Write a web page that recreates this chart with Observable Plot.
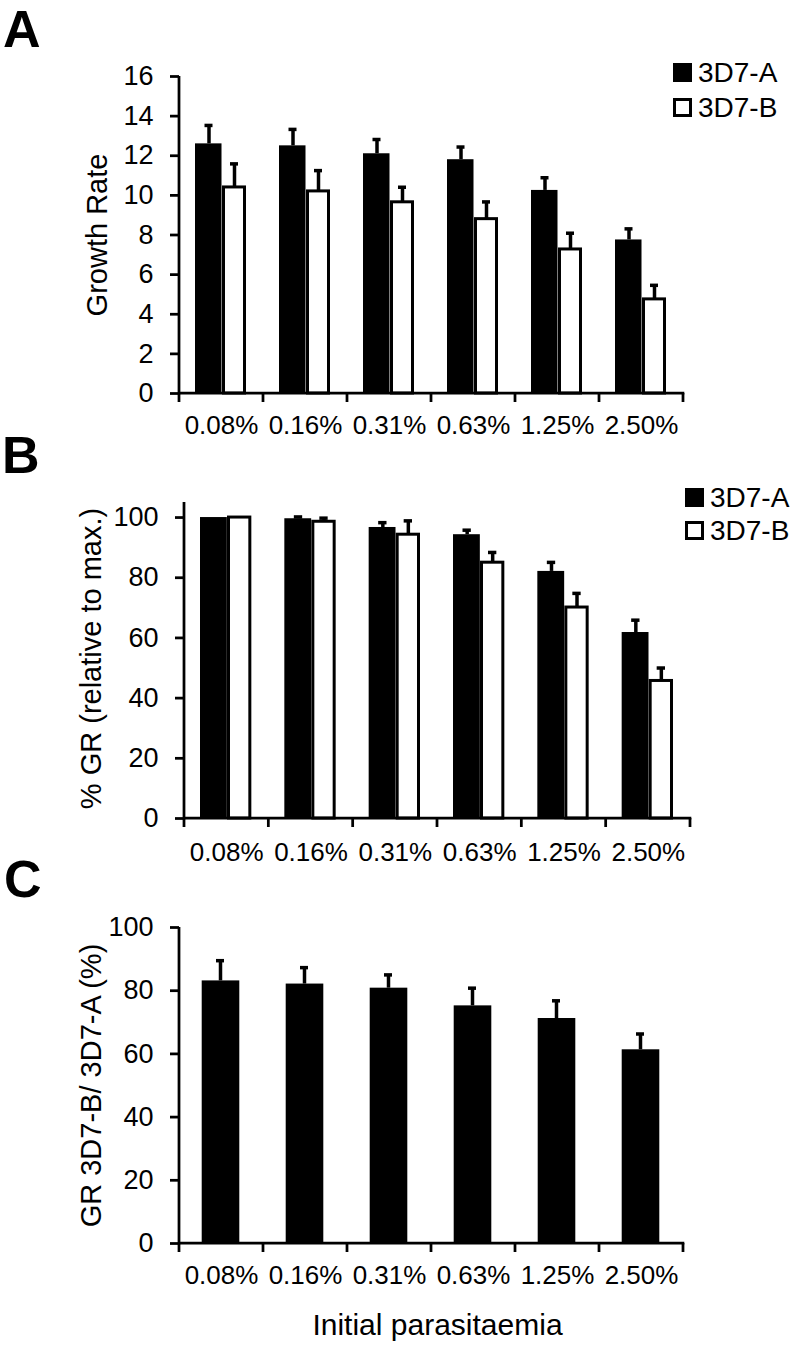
<!DOCTYPE html>
<html><head><meta charset="utf-8">
<script src="https://cdn.jsdelivr.net/npm/d3@7"></script>
<script src="https://cdn.jsdelivr.net/npm/@observablehq/plot@0.6"></script>
<style>
html,body{margin:0;padding:0;background:#fff;}
#root{position:relative;width:800px;height:1345px;overflow:hidden;font-family:"Liberation Sans",Arial,sans-serif;color:#000;background:#fff;}
.panel{position:absolute;left:0;}
.letter{position:absolute;font-weight:bold;line-height:1;}
.legend{position:absolute;font-size:28px;line-height:1;}
.legend .row{display:flex;align-items:center;}
.legend .sw{width:19px;height:19px;box-sizing:border-box;margin-right:6px;flex:none;}
</style></head><body><div id="root"></div>
<script>
const FONT = '"Liberation Sans", Arial, sans-serif';
const categories = ["0.08%", "0.16%", "0.31%", "0.63%", "1.25%", "2.50%"];
const seriesNames = ["3D7-A", "3D7-B"];
const seriesFill = ["black", "white"];

// Panel A: growth rate
const growthA = [12.6, 12.5, 12.1, 11.8, 10.25, 7.75];
const growthAErr = [0.93, 0.83, 0.72, 0.64, 0.64, 0.56];
const growthB = [10.4, 10.2, 9.65, 8.8, 7.27, 4.75];
const growthBErr = [1.19, 1.05, 0.76, 0.87, 0.82, 0.71];
const growthTicks = [0, 2, 4, 6, 8, 10, 12, 14, 16];

// Panel B: % GR relative to max
const pctA = [100, 99.6, 96.7, 94.3, 82.1, 61.8];
const pctAErr = [0, 0.6, 1.6, 1.5, 3.0, 4.1];
const pctB = [100, 98.6, 94.3, 85.0, 70.1, 45.7];
const pctBErr = [0, 1.2, 4.6, 3.4, 4.7, 4.3];
const pctTicks = [0, 20, 40, 60, 80, 100];

// Panel C: ratio
const ratio = [83.1, 82.1, 80.8, 75.2, 71.2, 61.3];
const ratioErr = [6.4, 5.2, 4.2, 5.6, 5.6, 5.0];
const ratioTicks = [0, 20, 40, 60, 80, 100];

const root = document.getElementById("root");

function rowsOf(vals, errs) {
  return categories.map((c, i) => ({cat: c, value: vals[i], err: errs[i]}));
}

function axisFrame(index, scales, values, dims) {
  const x = scales.x;
  const x0 = dims.marginLeft, x1 = dims.width - dims.marginRight;
  const yt = dims.marginTop, yb = dims.height - dims.marginBottom;
  const g = d3.create("svg:g").attr("stroke", "black").attr("stroke-width", 2.75).attr("fill", "none");
  g.append("line").attr("x1", x0).attr("x2", x0).attr("y1", yt).attr("y2", yb + 1.3);
  g.append("line").attr("x1", x0).attr("x2", x1 + 1.3).attr("y1", yb).attr("y2", yb);
  const bw = typeof x.bandwidth === "function" ? x.bandwidth() : (x1 - x0) / categories.length;
  const edges = categories.map(c => x(c)).concat([x(categories[categories.length - 1]) + bw]);
  for (const e of edges) g.append("line").attr("x1", e).attr("x2", e).attr("y1", yb).attr("y2", yb + 9);
  return g.node();
}

function errorMarks(rows, dx, capL, capR) {
  const r = rows.filter(d => d.err > 0);
  return [
    Plot.ruleX(r, {x: "cat", y1: "value", y2: d => d.value + d.err, dx, stroke: "black", strokeWidth: 3.5}),
    Plot.tickY(r, {x: "cat", y: d => d.value + d.err, insetLeft: capL, insetRight: capR, stroke: "black", strokeWidth: 3.5})
  ];
}

function makePlot(o) {
  const marks = [];
  if (o.rowsB) {
    marks.push(
      Plot.barY(o.rowsA, {x: "cat", y: "value", fill: seriesFill[0], insetLeft: 16, insetRight: 41.5}),
      Plot.barY(o.rowsB, {x: "cat", y: "value", fill: seriesFill[1], stroke: "black", strokeWidth: 3, insetLeft: 44.5, insetRight: 18.5}),
      ...errorMarks(o.rowsA, -12.5, 25.5, 50.5),
      ...errorMarks(o.rowsB, 13, 51, 25)
    );
  } else {
    marks.push(
      Plot.barY(o.rowsA, {x: "cat", y: "value", fill: "black", insetLeft: 22.7, insetRight: 23.7}),
      ...errorMarks(o.rowsA, -1, 37, 39)
    );
  }
  marks.push(
    Plot.axisY({ticks: o.yTicks, tickSize: 9, tickPadding: 17, fontSize: 27, strokeWidth: 2.75, label: null}),
    Plot.axisX({tickSize: 0, tickPadding: o.xPad, fontSize: 26, label: null}),
    axisFrame,
    Plot.text([o.yTitle], {text: d => d, frameAnchor: "left", rotate: -90, textAnchor: "middle", lineAnchor: "top", dx: o.titleDx, dy: o.titleDy || 0, fontSize: 29, fill: "black"})
  );
  if (o.xTitle) {
    marks.push(Plot.text([o.xTitle], {text: d => d, frameAnchor: "bottom", textAnchor: "middle", lineAnchor: "top", dy: 70, dx: 6, fontSize: 30, fill: "black"}));
  }
  const svg = Plot.plot({
    width: 800, height: o.height,
    marginTop: o.mt, marginBottom: o.mb, marginLeft: o.ml, marginRight: o.mr,
    style: {fontFamily: FONT, color: "black", background: "transparent", overflow: "visible"},
    x: {domain: categories, padding: 0, round: false},
    y: {domain: o.yDomain},
    marks
  });
  const wrap = document.createElement("div");
  wrap.className = "panel";
  wrap.style.top = o.top + "px";
  wrap.appendChild(svg);
  root.appendChild(wrap);
}

function addLetter(t, left, top, size) {
  const d = document.createElement("div");
  d.className = "letter";
  d.textContent = t;
  d.style.left = left + "px"; d.style.top = top + "px"; d.style.fontSize = size + "px";
  root.appendChild(d);
}

function addLegend(left, top, rowH) {
  const d = document.createElement("div");
  d.className = "legend";
  d.style.left = left + "px"; d.style.top = top + "px";
  seriesNames.forEach((name, i) => {
    const r = document.createElement("div");
    r.className = "row"; r.style.height = rowH + "px";
    const sw = document.createElement("div");
    sw.className = "sw";
    sw.style.background = seriesFill[i];
    if (seriesFill[i] === "white") sw.style.border = "3px solid black";
    const tx = document.createElement("span");
    tx.textContent = name;
    r.appendChild(sw); r.appendChild(tx);
    d.appendChild(r);
  });
  root.appendChild(d);
}

makePlot({top: 0, height: 445, mt: 76, mb: 52, ml: 179, mr: 117, yDomain: [0, 16], yTicks: growthTicks,
  rowsA: rowsOf(growthA, growthAErr), rowsB: rowsOf(growthB, growthBErr), xPad: 22,
  yTitle: "Growth Rate", titleDx: -93});
makePlot({top: 450, height: 420, mt: 52, mb: 52, ml: 184, mr: 110, yDomain: [0, 105], yTicks: pctTicks,
  rowsA: rowsOf(pctA, pctAErr), rowsB: rowsOf(pctB, pctBErr), xPad: 24,
  yTitle: "% GR (relative to max.)", titleDx: -104, titleDy: -2});
makePlot({top: 880, height: 465, mt: 47, mb: 102, ml: 179, mr: 117, yDomain: [0, 100], yTicks: ratioTicks,
  rowsA: rowsOf(ratio, ratioErr), xPad: 22,
  yTitle: "GR 3D7-B/ 3D7-A (%)", titleDx: -99, xTitle: "Initial parasitaemia"});

addLetter("A", 3, 3, 52);
addLetter("B", 2, 429, 52);
addLetter("C", 4, 853, 52);
addLegend(673, 55, 35);
addLegend(685, 481, 33);
</script></body></html>
